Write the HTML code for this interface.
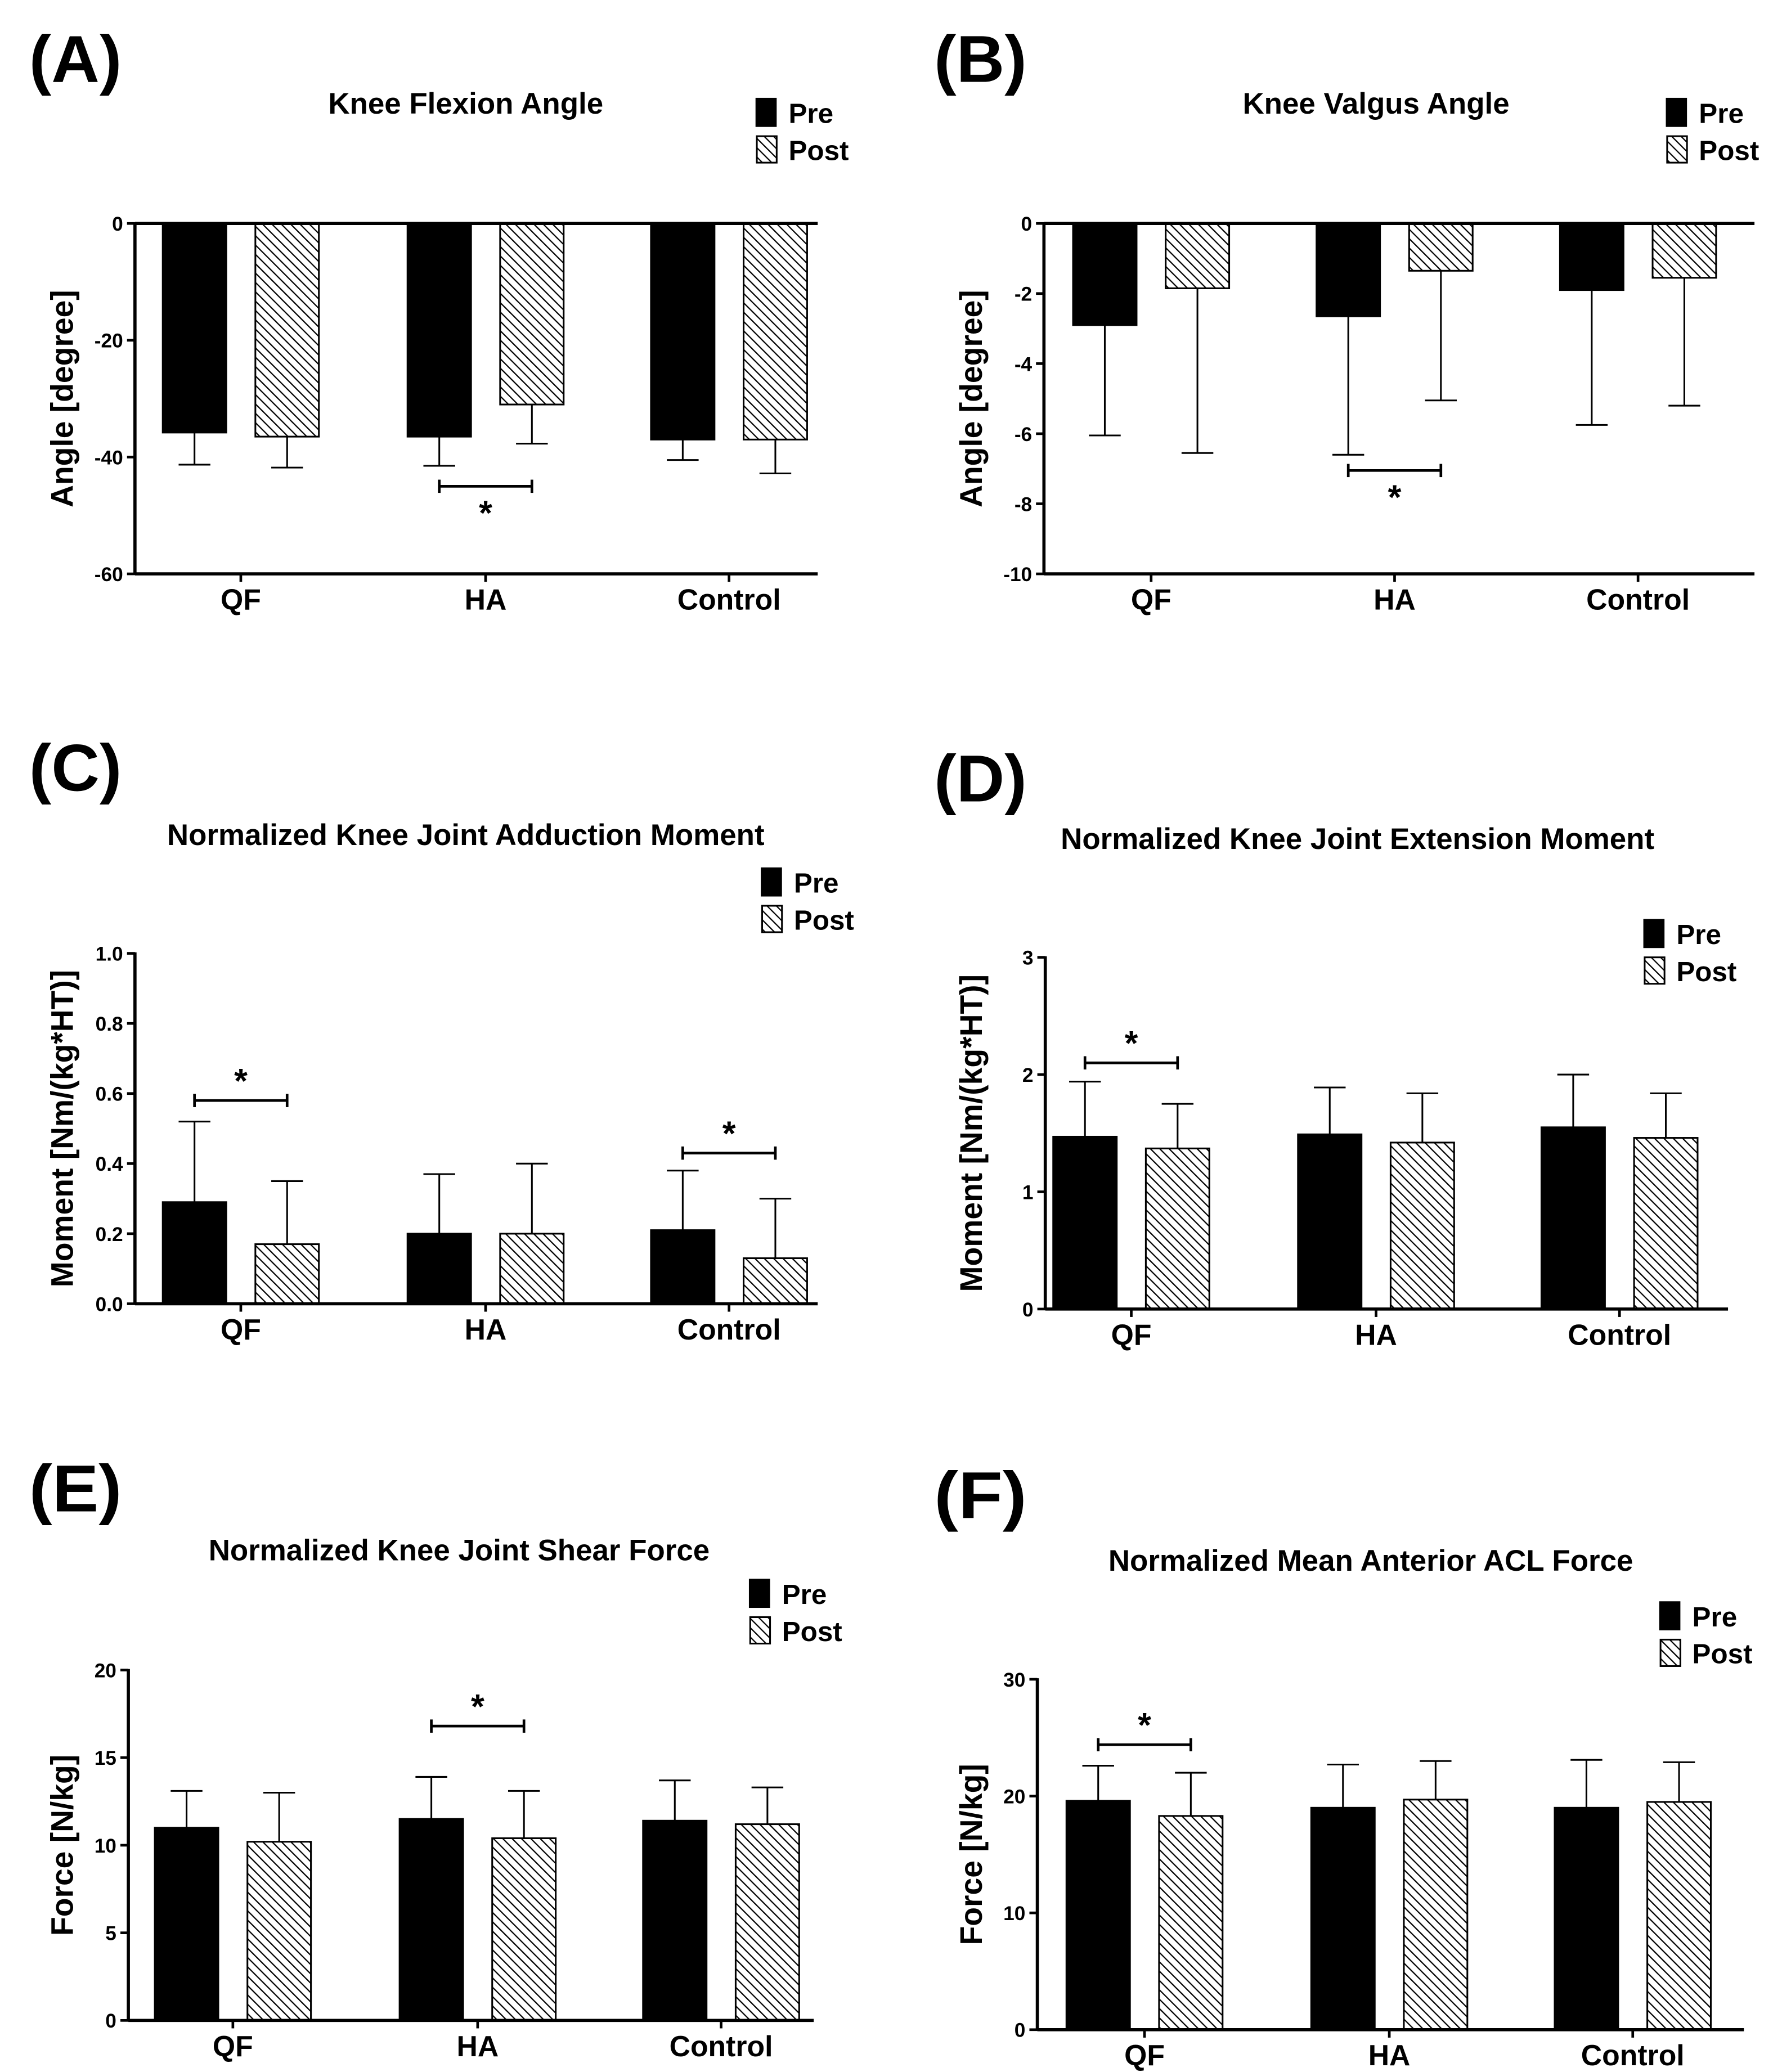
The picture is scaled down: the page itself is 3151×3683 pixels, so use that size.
<!DOCTYPE html>
<html><head><meta charset="utf-8"><style>
html,body{margin:0;padding:0;background:#fff;}
svg{display:block;}
text{font-family:"Liberation Sans",Arial,sans-serif;font-weight:bold;fill:#000;}
</style></head><body>
<svg id="fig" width="3151" height="3683" viewBox="0 0 1340 1567" preserveAspectRatio="none" xmlns="http://www.w3.org/2000/svg">
<defs>
<pattern id="hatch" patternUnits="userSpaceOnUse" width="5" height="5" patternTransform="rotate(-45)">
<rect width="5" height="5" fill="#fff"/>
<line x1="0" y1="0" x2="0" y2="5" stroke="#000" stroke-width="1.9"/>
</pattern>
</defs>
</svg>
<script>
const categories = ["QF","HA","Control"];
// Panel A
const aPre = [-35.8,-36.5,-37.0], aPost = [-36.5,-31.0,-37.0];
const aPreErr = [-41.3,-41.5,-40.5], aPostErr = [-41.8,-37.7,-42.8];
const aTicks = [0,-20,-40,-60];
// Panel B
const bPre = [-2.9,-2.65,-1.9], bPost = [-1.85,-1.35,-1.55];
const bPreErr = [-6.05,-6.6,-5.75], bPostErr = [-6.55,-5.05,-5.2];
const bTicks = [0,-2,-4,-6,-8,-10];
// Panel C
const cPre = [0.29,0.20,0.21], cPost = [0.17,0.20,0.13];
const cPreErr = [0.52,0.37,0.38], cPostErr = [0.35,0.40,0.30];
const cTicks = [0,0.2,0.4,0.6,0.8,1.0];
const cTickLabels = ["0.0","0.2","0.4","0.6","0.8","1.0"];
// Panel D
const dPre = [1.47,1.49,1.55], dPost = [1.37,1.42,1.46];
const dPreErr = [1.94,1.89,2.0], dPostErr = [1.75,1.84,1.84];
const dTicks = [0,1,2,3];
// Panel E
const ePre = [11.0,11.5,11.4], ePost = [10.2,10.4,11.2];
const ePreErr = [13.1,13.9,13.7], ePostErr = [13.0,13.1,13.3];
const eTicks = [0,5,10,15,20];
// Panel F
const fPre = [19.6,19.0,19.0], fPost = [18.3,19.7,19.5];
const fPreErr = [22.6,22.7,23.1], fPostErr = [22.0,23.0,22.9];
const fTicks = [0,10,20,30];

const NS = "http://www.w3.org/2000/svg";
const svg = document.getElementById('fig');
function mk(tag, attrs, parent, txt){
  const e = document.createElementNS(NS, tag);
  for (const k in attrs) e.setAttribute(k, attrs[k]);
  if (txt !== undefined) e.textContent = txt;
  parent.appendChild(e); return e;
}
function panel(p){
  const g = mk('g', {}, svg);
  
  
  const y = v => p.y0 + (v - p.vmin) / (p.vmax - p.vmin) * (p.y1 - p.y0);
  const lab = mk('text', {x: p.lx, y: p.ly, 'font-size': 50, 'textLength': 70, 'lengthAdjust': 'spacingAndGlyphs'}, g, '(' + p.id.toUpperCase() + ')');
  
  
  const t = mk('text', {x: p.tx, y: p.ty, 'font-size': 22.5, 'text-anchor': 'middle'}, g, p.title);
  
  
  const lg = mk('g', {}, g);
  
  
  mk('rect', {x: p.gx, y: p.gy, width: 16, height: 22, fill: '#000'}, lg);
  mk('text', {x: p.gx + 25, y: p.gy + 19, 'font-size': 21}, lg, 'Pre');
  mk('rect', {x: p.gx + 1, y: p.gy + 29, width: 15, height: 20, fill: 'url(#hatch)', stroke: '#000', 'stroke-width': 1.3}, lg);
  mk('text', {x: p.gx + 25, y: p.gy + 47, 'font-size': 21}, lg, 'Post');
  const zero = y(0);
  for (let i = 0; i < categories.length; i++){
    const c = p.cx[i];
    [[p.pre, p.preErr, c - 59, '#000', 'pre'], [p.post, p.postErr, c + 11, 'url(#hatch)', 'post']].forEach(s => {
      const v = s[0][i], e = s[1][i], bx = s[2], bc = bx + 24;
      const yv = y(v), ye = y(e);
      const el = mk('line', {x1: bc, x2: bc, y1: yv, y2: ye, stroke: '#000', 'stroke-width': 1.3}, g);
      
      
      const cap = mk('line', {x1: bc - 12, x2: bc + 12, y1: ye, y2: ye, stroke: '#000', 'stroke-width': 1.3}, g);
      
      
      const r = mk('rect', {x: bx, y: Math.min(yv, zero), width: 48, height: Math.abs(yv - zero), fill: s[3], stroke: '#000', 'stroke-width': 1.3}, g);
      
      
    });
  }
  const top = Math.min(p.y0, p.y1), bottom = Math.max(p.y0, p.y1);
  const ax = mk('line', {x1: p.ax, x2: p.ax, y1: top - 0.8, y2: bottom + 0.8, stroke: '#000', 'stroke-width': 2.4}, g);
  
  
  const xa = mk('line', {x1: p.ax, x2: p.axr, y1: bottom, y2: bottom, stroke: '#000', 'stroke-width': 2.4}, g);
  
  
  if (zero !== bottom) {
    const zl = mk('line', {x1: p.ax, x2: p.axr, y1: zero, y2: zero, stroke: '#000', 'stroke-width': 2.4}, g);
    
    
  }
  p.ticks.forEach((tv, k) => {
    const ty = y(tv);
    mk('line', {x1: p.ax - 6, x2: p.ax, y1: ty, y2: ty, stroke: '#000', 'stroke-width': 2}, g);
    const tl = mk('text', {x: p.ax - 9, y: ty + 5.5, 'font-size': 15, 'text-anchor': 'end'}, g, p.tickLabels ? p.tickLabels[k] : String(tv));
    
    
  });
  for (let i = 0; i < categories.length; i++){
    mk('line', {x1: p.cx[i], x2: p.cx[i], y1: bottom, y2: bottom + 6, stroke: '#000', 'stroke-width': 2}, g);
    const cl = mk('text', {x: p.cx[i], y: bottom + 27, 'font-size': 22, 'text-anchor': 'middle'}, g, categories[i]);
    
    
  }
  const yt = mk('text', {x: 0, y: 0, 'font-size': 23.5, 'text-anchor': 'middle', transform: 'translate(' + p.ylx + ',' + ((p.y0 + p.y1) / 2) + ') rotate(-90)'}, g, p.ytitle);
  
  
  p.sig.forEach(sg => {
    const c = p.cx[sg.i], by = y(sg.v), x1 = c - 35, x2 = c + 35;
    const sgp = mk('g', {}, g);
    
    
    mk('line', {x1: x1, x2: x2, y1: by, y2: by, stroke: '#000', 'stroke-width': 2}, sgp);
    mk('line', {x1: x1, x2: x1, y1: by - 5, y2: by + 5, stroke: '#000', 'stroke-width': 2}, sgp);
    mk('line', {x1: x2, x2: x2, y1: by - 5, y2: by + 5, stroke: '#000', 'stroke-width': 2}, sgp);
    mk('text', {x: c, y: by + sg.dy, 'font-size': 26, 'text-anchor': 'middle'}, sgp, '*');
  });
}
panel({id:'a', title:'Knee Flexion Angle', lx:22, ly:62, tx:352, ty:86, gx:571, gy:74,
  ax:102, axr:618, y0:169, y1:434, vmin:0, vmax:-60, ticks:aTicks, cx:[182,367,551],
  pre:aPre, post:aPost, preErr:aPreErr, postErr:aPostErr, ytitle:'Angle [degree]', ylx:55,
  sig:[{i:1, v:-45, dy:29}]});
panel({id:'b', title:'Knee Valgus Angle', lx:706, ly:62, tx:1040, ty:86, gx:1259, gy:74,
  ax:789, axr:1326, y0:169, y1:434, vmin:0, vmax:-10, ticks:bTicks, cx:[870,1054,1238],
  pre:bPre, post:bPost, preErr:bPreErr, postErr:bPostErr, ytitle:'Angle [degree]', ylx:742,
  sig:[{i:1, v:-7.05, dy:29}]});
panel({id:'c', title:'Normalized Knee Joint Adduction Moment', lx:22, ly:598, tx:352, ty:639, gx:575, gy:656,
  ax:102, axr:618, y0:986, y1:721, vmin:0, vmax:1, ticks:cTicks, tickLabels:cTickLabels, cx:[182,367,551],
  pre:cPre, post:cPost, preErr:cPreErr, postErr:cPostErr, ytitle:'Moment [Nm/(kg*HT)]', ylx:55,
  sig:[{i:0, v:0.58, dy:-6}, {i:2, v:0.43, dy:-6}]});
panel({id:'d', title:'Normalized Knee Joint Extension Moment', lx:706, ly:606, tx:1026, ty:642, gx:1242, gy:695,
  ax:790, axr:1306, y0:990, y1:724, vmin:0, vmax:3, ticks:dTicks, cx:[855,1040,1224],
  pre:dPre, post:dPost, preErr:dPreErr, postErr:dPostErr, ytitle:'Moment [Nm/(kg*HT)]', ylx:742,
  sig:[{i:0, v:2.1, dy:-6}]});
panel({id:'e', title:'Normalized Knee Joint Shear Force', lx:22, ly:1143, tx:347, ty:1180, gx:566, gy:1194,
  ax:97, axr:615, y0:1528, y1:1263, vmin:0, vmax:20, ticks:eTicks, cx:[176,361,545],
  pre:ePre, post:ePost, preErr:ePreErr, postErr:ePostErr, ytitle:'Force [N/kg]', ylx:55,
  sig:[{i:1, v:16.8, dy:-6}]});
panel({id:'f', title:'Normalized Mean Anterior ACL Force', lx:706, ly:1148, tx:1036, ty:1188, gx:1254, gy:1211,
  ax:784, axr:1318, y0:1535, y1:1270, vmin:0, vmax:30, ticks:fTicks, cx:[865,1050,1234],
  pre:fPre, post:fPost, preErr:fPreErr, postErr:fPostErr, ytitle:'Force [N/kg]', ylx:742,
  sig:[{i:0, v:24.4, dy:-6}]});
</script>
</body></html>
